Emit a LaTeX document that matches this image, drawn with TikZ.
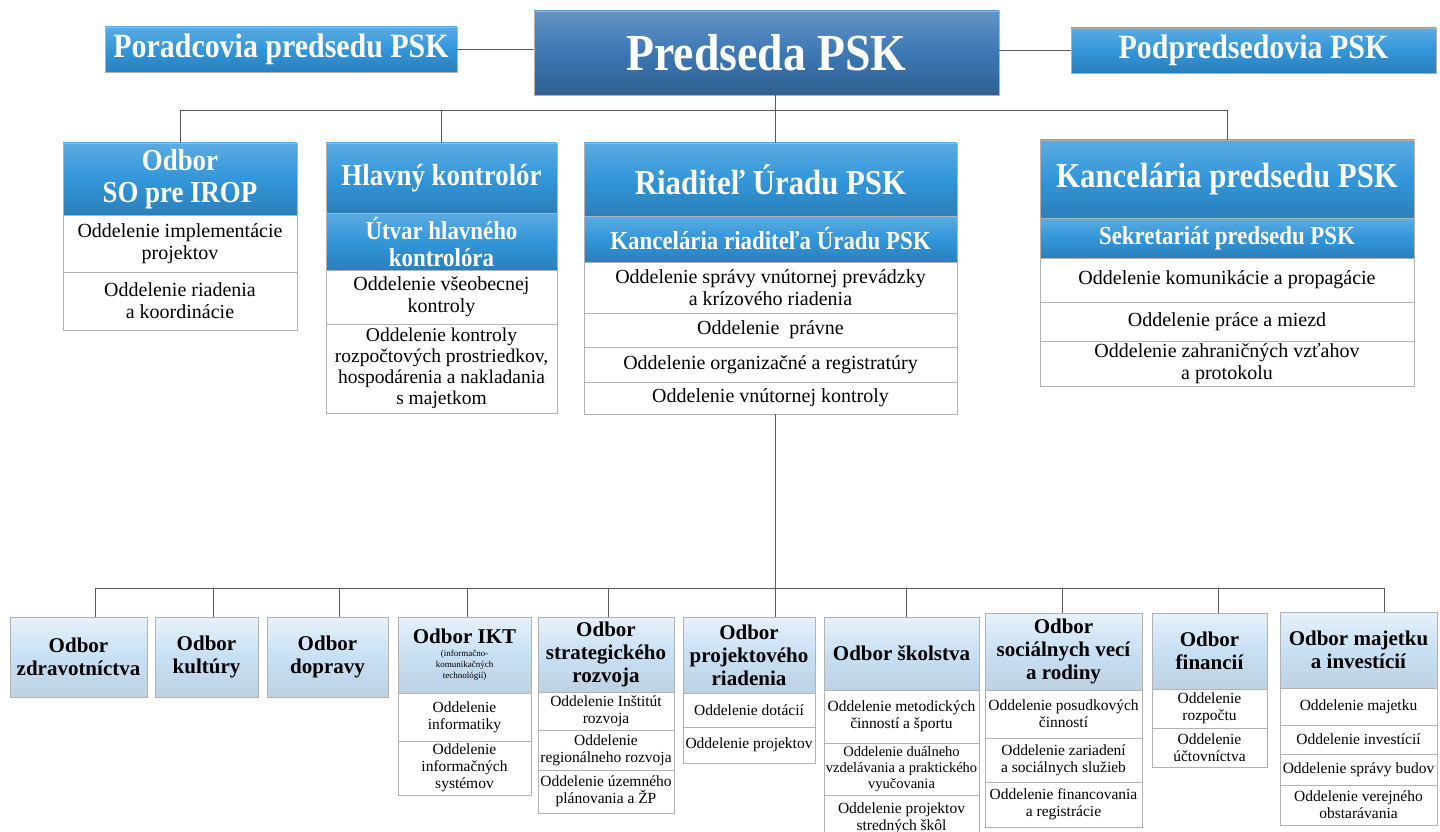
\documentclass[tikz,border=0pt]{standalone}
\usepackage{fontspec}
\setmainfont{Liberation Serif}
\newfontfamily\narrowserif{Liberation Serif}[FakeStretch=0.88]
\usetikzlibrary{positioning}

\definecolor{chiefblue}{RGB}{60,120,180}
\definecolor{headblue}{RGB}{50,150,218}
\definecolor{deptblue}{RGB}{200,224,244}

\newcommand{\iktnote}[1]{{\fontsize{9}{10}\selectfont\mdseries #1}}

\begin{document}
\begin{tikzpicture}[x=1pt, y=-1pt,
    box/.style={rectangle, draw=gray!60, line width=0.8pt, align=center, inner sep=1pt, outer sep=0pt},
    chief/.style={box, top color=chiefblue!80!white, bottom color=chiefblue!80!black, middle color=chiefblue, text=white, font=\narrowserif\bfseries\fontsize{52}{56}\selectfont},
    sidebox/.style={box, top color=headblue!80!white, bottom color=headblue!85!black, middle color=headblue, text=white, font=\narrowserif\bfseries\fontsize{34}{36}\selectfont},
    head/.style={sidebox, minimum width=#1},
    subhead/.style={sidebox, minimum width=#1, font=\narrowserif\bfseries\fontsize{26}{27}\selectfont},
    item/.style={box, fill=white, minimum width=#1, font=\fontsize{20}{22}\selectfont},
    dept/.style={box, top color=deptblue!45!white, bottom color=deptblue!85!gray, middle color=deptblue, minimum width=#1, font=\bfseries\fontsize{21}{23}\selectfont},
    unit/.style={box, fill=white, minimum width=#1, font=\fontsize{15.5}{17}\selectfont},
    link/.style={draw=black!65, line width=0.7pt}
  ]
  \fill[white] (0,0) rectangle (1440,832);
  \useasboundingbox (0,0) rectangle (1440,832);

  % top row
  \node[chief, minimum width=465, minimum height=84] (pred) at (766.5,53) {Predseda PSK};
  \node[sidebox, minimum width=352, minimum height=45] (por) at (281,49.5) {Poradcovia predsedu PSK};
  \node[sidebox, minimum width=365, minimum height=45] (pod) at (1253.5,50.5) {Podpredsedovia PSK};

  % second row
  \node[head=234, minimum height=72, font=\narrowserif\bfseries\fontsize{30.5}{32}\selectfont] (irop) at (180,179) {Odbor\\SO pre IROP};
  \node[item=234, minimum height=57, below=0pt of irop] (irop1) {Oddelenie implementácie\\projektov};
  \node[item=234, minimum height=58, below=0pt of irop1] (irop2) {Oddelenie riadenia\\a koordinácie};

  \node[head=231, minimum height=70, font=\narrowserif\bfseries\fontsize{30.5}{32}\selectfont] (hk) at (441.5,178) {Hlavný kontrolór};
  \node[subhead=231, minimum height=57, below=0pt of hk] (hk0) {Útvar hlavného\\kontrolóra};
  \node[item=231, minimum height=54, below=0pt of hk0] (hk1) {Oddelenie všeobecnej\\kontroly};
  \node[item=231, minimum height=89, below=0pt of hk1, font=\fontsize{19.5}{21}\selectfont] (hk2) {Oddelenie kontroly\\rozpočtových prostriedkov,\\hospodárenia a nakladania\\s majetkom};

  \node[head=373, minimum height=73, font=\narrowserif\bfseries\fontsize{35}{37}\selectfont] (riad) at (770.5,179.5) {Riaditeľ Úradu PSK};
  \node[subhead=373, minimum height=46, below=0pt of riad] (riad0) {Kancelária riaditeľa Úradu PSK};
  \node[item=373, minimum height=51, below=0pt of riad0] (riad1) {Oddelenie správy vnútornej prevádzky\\a krízového riadenia};
  \node[item=373, minimum height=34, below=0pt of riad1] (riad2) {Oddelenie\ \ právne};
  \node[item=373, minimum height=35, below=0pt of riad2] (riad3) {Oddelenie organizačné a registratúry};
  \node[item=373, minimum height=32, below=0pt of riad3] (riad4) {Oddelenie vnútornej kontroly};

  \node[head=374, minimum height=78, font=\narrowserif\bfseries\fontsize{35}{37}\selectfont] (kanc) at (1227,179) {Kancelária predsedu PSK};
  \node[subhead=374, minimum height=40, below=0pt of kanc] (kanc0) {Sekretariát predsedu PSK};
  \node[item=374, minimum height=44, below=0pt of kanc0] (kanc1) {Oddelenie komunikácie a propagácie};
  \node[item=374, minimum height=39, below=0pt of kanc1] (kanc2) {Oddelenie práce a miezd};
  \node[item=374, minimum height=45, below=0pt of kanc2] (kanc3) {Oddelenie zahraničných vzťahov\\a protokolu};

  % bottom row
  \node[dept=137, minimum height=80] (zdrav) at (78.5,657) {Odbor\\zdravotníctva};
  \node[dept=103, minimum height=80] (kult) at (206.5,657) {Odbor\\kultúry};
  \node[dept=121, minimum height=80] (dopr) at (327.5,657) {Odbor\\dopravy};

  \node[dept=133, minimum height=76] (ikt) at (464.5,655) {Odbor IKT\\[-10pt]\iktnote{(informačno-}\\[-12pt]\iktnote{komunikačných}\\[-12pt]\iktnote{technológií)}};
  \node[unit=133, minimum height=48, below=0pt of ikt] (ikt1) {Oddelenie\\informatiky};
  \node[unit=133, minimum height=54, below=0pt of ikt1] (ikt2) {Oddelenie\\informačných\\systémov};

  \node[dept=136, minimum height=75] (strat) at (606,654.5) {Odbor\\strategického\\rozvoja};
  \node[unit=136, minimum height=38, below=0pt of strat] (strat1) {Oddelenie Inštitút\\rozvoja};
  \node[unit=136, minimum height=40, below=0pt of strat1] (strat2) {Oddelenie\\regionálneho rozvoja};
  \node[unit=136, minimum height=43, below=0pt of strat2] (strat3) {Oddelenie územného\\plánovania a ŽP};

  \node[dept=132, minimum height=76] (proj) at (749,655) {Odbor\\projektového\\riadenia};
  \node[unit=132, minimum height=34, below=0pt of proj] (proj1) {Oddelenie dotácií};
  \node[unit=132, minimum height=36, below=0pt of proj1] (proj2) {Oddelenie projektov};

  \node[dept=155, minimum height=73] (skol) at (901.5,653.5) {Odbor školstva};
  \node[unit=155, minimum height=53, below=0pt of skol] (skol1) {Oddelenie metodických\\činností a športu};
  \node[unit=155, minimum height=52, below=0pt of skol1, font=\fontsize{14.5}{16}\selectfont] (skol2) {Oddelenie duálneho\\vzdelávania a praktického\\vyučovania};
  \node[unit=155, minimum height=46, below=0pt of skol2] (skol3) {Oddelenie projektov\\stredných škôl};

  \node[dept=157, minimum height=77] (soc) at (1063.5,651.5) {Odbor\\sociálnych vecí\\a rodiny};
  \node[unit=157, minimum height=48, below=0pt of soc] (soc1) {Oddelenie posudkových\\činností};
  \node[unit=157, minimum height=44, below=0pt of soc1] (soc2) {Oddelenie zariadení\\a sociálnych služieb};
  \node[unit=157, minimum height=45, below=0pt of soc2] (soc3) {Oddelenie financovania\\a registrácie};

  \node[dept=115, minimum height=76] (fin) at (1209.5,651) {Odbor\\financií};
  \node[unit=115, minimum height=39, below=0pt of fin] (fin1) {Oddelenie\\rozpočtu};
  \node[unit=115, minimum height=39, below=0pt of fin1] (fin2) {Oddelenie\\účtovníctva};

  \node[dept=157, minimum height=76] (maj) at (1358.5,650) {Odbor majetku\\a investícií};
  \node[unit=157, minimum height=37, below=0pt of maj] (maj1) {Oddelenie majetku};
  \node[unit=157, minimum height=29, below=0pt of maj1] (maj2) {Oddelenie investícií};
  \node[unit=157, minimum height=31, below=0pt of maj2] (maj3) {Oddelenie správy budov};
  \node[unit=157, minimum height=40, below=0pt of maj3] (maj4) {Oddelenie verejného\\obstarávania};

  % connectors
  \coordinate (bus1) at (775,110);
  \coordinate (bus2) at (775,588);
  \draw[link] (por.east) -- (por.east -| pred.west);
  \draw[link] (pod.west -| pred.east) -- (pod.west);
  \draw[link] (pred.south -| bus1) -- (riad.north -| bus1);
  \draw[link] (irop.north) -- (irop.north |- bus1) -- (kanc.north |- bus1) -- (kanc.north);
  \draw[link] (hk.north) -- (hk.north |- bus1);
  \draw[link] (riad4.south -| bus2) -- (proj.north -| bus2);
  \foreach \n/\x in {zdrav/95, kult/213, dopr/339, ikt/467, strat/608, skol/906, soc/1062, fin/1218, maj/1384} {
    \coordinate (top\n) at (\x,588);
    \draw[link] (top\n) -- (\n.north -| top\n);
  }
  \draw[link] (topzdrav) -- (topmaj);
\end{tikzpicture}
\end{document}
